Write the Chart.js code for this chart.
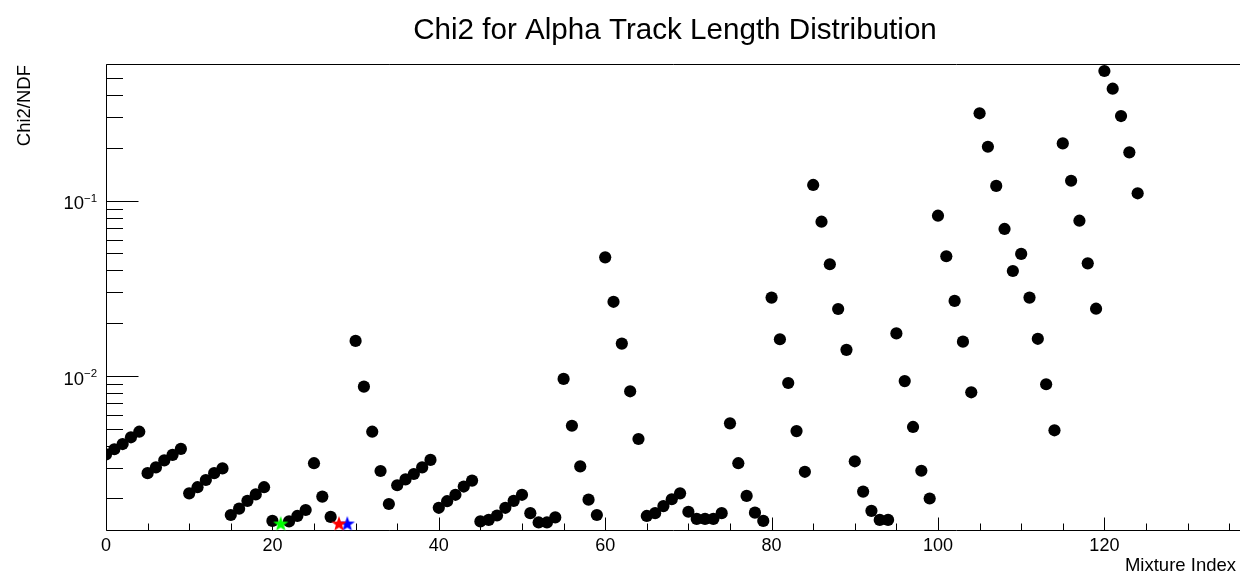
<!DOCTYPE html>
<html>
<head>
<meta charset="utf-8">
<title>Chi2 for Alpha Track Length Distribution</title>
<script src="https://cdn.jsdelivr.net/npm/chart.js@4.4.1/dist/chart.umd.min.js"></script>
<style>
  html, body { margin: 0; padding: 0; background: #ffffff; }
  #wrap { width: 1240px; height: 573px; position: relative; }
</style>
</head>
<body>
<div id="wrap"><canvas id="chi2Chart" width="1240" height="573"></canvas></div>
<script>
// ---- text ----
const chartTitle = 'Chi2 for Alpha Track Length Distribution';
const xAxisTitle = 'Mixture Index';
const yAxisTitle = 'Chi2/NDF';

// ---- data: reduced chi-square for each mixture index (0..124) ----
const chi2ndf = [
  0.00357, 0.00382, 0.00409, 0.00447, 0.00481,
  0.00279, 0.00301, 0.00330, 0.00355, 0.00384,
  0.00214, 0.00232, 0.00255, 0.00279, 0.00297,
  0.00161, 0.00175, 0.00194, 0.00211, 0.00232,
  0.00149, 0.00144, 0.00148, 0.00159, 0.00172,
  0.00318, 0.00205, 0.00157, 0.00144, 0.00144,
  0.01585, 0.00869, 0.00481, 0.00287, 0.00186,
  0.00238, 0.00257, 0.00276, 0.00301, 0.00332,
  0.00177, 0.00193, 0.00210, 0.00234, 0.00253,
  0.00148, 0.00151, 0.00160, 0.00177, 0.00194,
  0.00210, 0.00165, 0.00146, 0.00146, 0.00156,
  0.00962, 0.00520, 0.00305, 0.00197, 0.00161,
  0.0475,  0.0265,  0.0153,  0.00818, 0.00437,
  0.00159, 0.00165, 0.00181, 0.00198, 0.00214,
  0.00168, 0.00153, 0.00153, 0.00153, 0.00165,
  0.00537, 0.00318, 0.00207, 0.00166, 0.00149,
  0.0280,  0.0162,  0.00912, 0.00485, 0.00284,
  0.1230,  0.0759,  0.0434,  0.0241,  0.0141,
  0.00326, 0.00219, 0.00170, 0.00151, 0.00151,
  0.0175,  0.00935, 0.00512, 0.00288, 0.00200,
  0.0821,  0.0482,  0.0268,  0.0157,  0.00807,
  0.3153,  0.2032,  0.1214,  0.0690,  0.0397,
  0.0497,  0.0280,  0.0163,  0.00897, 0.00490,
  0.2123,  0.1300,  0.0769,  0.0439,  0.0242,
  0.5495,  0.4355,  0.3040,  0.1888,  0.1102
];

// best-fit mixtures, drawn as coloured stars
const bestIndices = [21, 28, 29];
const bestColors  = ['#00ff00', '#ff0000', '#0000ff'];

// ---- axes ----
const xRange = [0, 136.3];
const yRange = [0.001305, 0.6024];
const xMajorTicks = [0, 20, 40, 60, 80, 100, 120];
const xMinorStep = 5;
const yDecades = [0.01, 0.1];
const yDecadeExponents = ['\u22122', '\u22121'];
const yMinorMultipliers = [2, 3, 4, 5, 6, 7, 8, 9];

const FONT = '"Liberation Sans", Arial, Helvetica, sans-serif';

// filled five-point star marker
function makeStar(color, outerR, innerR) {
  const size = Math.ceil(outerR * 2 + 2);
  const cv = document.createElement('canvas');
  cv.width = size; cv.height = size;
  const g = cv.getContext('2d');
  const cx = size / 2, cy = size / 2 + 0.6;
  g.beginPath();
  for (let k = 0; k < 10; k++) {
    const r = k % 2 === 0 ? outerR : innerR;
    const ang = -Math.PI / 2 + k * Math.PI / 5;
    const px = cx + r * Math.cos(ang), py = cy + r * Math.sin(ang);
    if (k === 0) g.moveTo(px, py); else g.lineTo(px, py);
  }
  g.closePath();
  g.fillStyle = color;
  g.fill();
  return cv;
}

// frame, ticks, labels and titles in the style of a ROOT canvas
const rootFrame = {
  id: 'rootFrame',
  beforeDatasetsDraw(chart) {
    const { ctx, chartArea: a, scales: { x, y } } = chart;
    const L = Math.round(a.left) + 0.5;
    const B = Math.round(a.bottom) - 0.5;
    const T = Math.round(a.top) + 0.5;
    ctx.save();
    ctx.strokeStyle = '#000';
    ctx.lineWidth = 1;
    ctx.beginPath();
    ctx.moveTo(L, T); ctx.lineTo(a.right, T);
    ctx.moveTo(L, T); ctx.lineTo(L, B); ctx.lineTo(a.right, B);
    ctx.stroke();

    // x ticks (inside the frame)
    ctx.beginPath();
    for (let v = xRange[0]; v <= xRange[1]; v += xMinorStep) {
      const px = Math.round(x.getPixelForValue(v)) + 0.5;
      const len = xMajorTicks.includes(v) ? 13 : 7;
      ctx.moveTo(px, B); ctx.lineTo(px, B - len);
    }
    // y ticks
    const yMin = Math.floor(Math.log10(yRange[0]));
    const yMax = Math.ceil(Math.log10(yRange[1]));
    for (let e = yMin; e <= yMax; e++) {
      const base = Math.pow(10, e);
      [1].concat(yMinorMultipliers).forEach(m => {
        const v = m * base;
        if (v < yRange[0] || v > yRange[1]) return;
        const py = Math.round(y.getPixelForValue(v)) + 0.5;
        const len = m === 1 ? 32 : 16.5;
        ctx.moveTo(L, py); ctx.lineTo(L + len, py);
      });
    }
    ctx.stroke();

    // x tick labels
    ctx.fillStyle = '#000';
    ctx.font = '18px ' + FONT;
    ctx.textAlign = 'center';
    ctx.textBaseline = 'alphabetic';
    xMajorTicks.forEach(v => {
      ctx.fillText(String(v), x.getPixelForValue(v), a.bottom + 20);
    });

    // y tick labels: 10 with a raised exponent
    yDecades.forEach((v, i) => {
      const py = y.getPixelForValue(v);
      const supX = 84;
      ctx.font = '18.5px ' + FONT;
      ctx.textAlign = 'right';
      ctx.fillText('10', supX, py + 8.8);
      ctx.font = '11.5px ' + FONT;
      ctx.textAlign = 'left';
      ctx.fillText(yDecadeExponents[i], supX, py + 1.5);
    });

    // axis titles
    ctx.font = '18.5px ' + FONT;
    ctx.textAlign = 'right';
    ctx.fillText(xAxisTitle, 1236, 571);
    ctx.save();
    ctx.translate(30, 65);
    ctx.rotate(-Math.PI / 2);
    ctx.textAlign = 'right';
    ctx.fillText(yAxisTitle, 0, 0);
    ctx.restore();

    // title
    ctx.font = '29.6px ' + FONT;
    ctx.textAlign = 'center';
    ctx.fillText(chartTitle, 675, 39);
    ctx.restore();
  }
};

const blackPoints = chi2ndf
  .map((v, i) => ({ x: i, y: v }))
  .filter(p => !bestIndices.includes(p.x));

// stars sit on top of the circles (order 0 is drawn last)
const starSets = bestIndices.map((idx, k) => ({
  label: 'best ' + idx,
  data: [{ x: idx, y: chi2ndf[idx] }],
  pointStyle: makeStar(bestColors[k], 8.0, 3.3),
  pointRadius: 8,
  pointHoverRadius: 8,
  showLine: false,
  clip: false,
  order: 0
}));

new Chart(document.getElementById('chi2Chart'), {
  type: 'scatter',
  data: {
    datasets: starSets.concat([{
      label: yAxisTitle,
      data: blackPoints,
      pointStyle: 'circle',
      pointRadius: 6.1,
      pointHoverRadius: 6.1,
      backgroundColor: '#000',
      borderColor: '#000',
      borderWidth: 0,
      showLine: false,
      order: 1
    }])
  },
  options: {
    responsive: false,
    animation: false,
    devicePixelRatio: 1,
    layout: { autoPadding: false, padding: { left: 106, top: 64, right: 0, bottom: 42 } },
    plugins: { legend: { display: false }, title: { display: false }, tooltip: { enabled: false } },
    events: [],
    scales: {
      x: { type: 'linear', display: false, min: xRange[0], max: xRange[1] },
      y: { type: 'logarithmic', display: false, min: yRange[0], max: yRange[1] }
    }
  },
  plugins: [rootFrame]
});
</script>
</body>
</html>
